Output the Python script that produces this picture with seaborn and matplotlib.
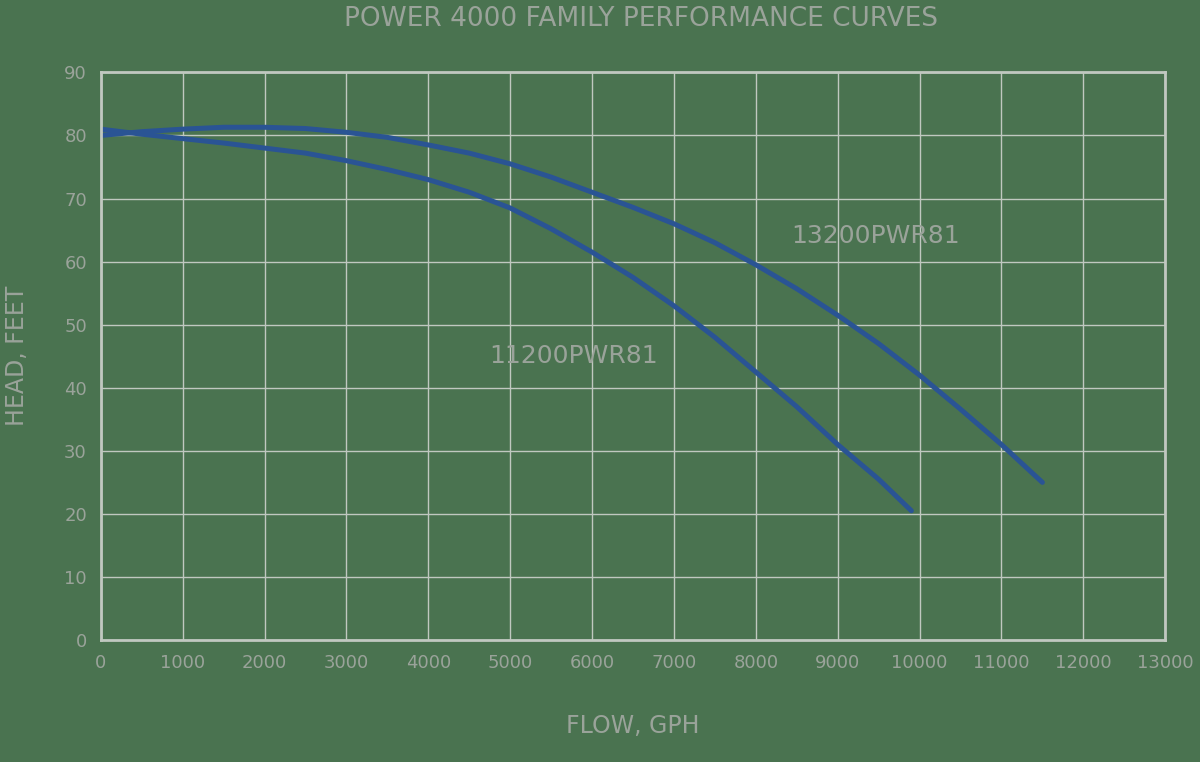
import matplotlib
matplotlib.use("Agg")
import matplotlib.pyplot as plt
import seaborn as sns
import pandas as pd

flow_11200 = [0, 500, 1000, 1500, 2000, 2500, 3000, 3500, 4000, 4500, 5000, 5500, 6000, 6500, 7000, 7500, 8000, 8500, 9000, 9500, 9900]
head_11200 = [81, 80.2, 79.5, 78.8, 78, 77.2, 76, 74.6, 73, 71, 68.5, 65.2, 61.5, 57.5, 53, 48, 42.5, 37, 31, 25.5, 20.5]
flow_13200 = [0, 500, 1000, 1500, 2000, 2500, 3000, 3500, 4000, 4500, 5000, 5500, 6000, 6500, 7000, 7500, 8000, 8500, 9000, 9500, 10000, 10500, 11000, 11500]
head_13200 = [80, 80.6, 81, 81.3, 81.3, 81.1, 80.5, 79.7, 78.5, 77.2, 75.5, 73.4, 71, 68.6, 66, 63, 59.5, 55.7, 51.5, 47, 42, 36.6, 31, 25]
xticks = list(range(0, 13001, 1000))
yticks = list(range(0, 91, 10))

bg = "#4a7350"
txt = "#9aa39a"
line = "#2a5494"

sns.set_style("white")
fig = plt.figure(figsize=(12, 7.62), dpi=100, facecolor=bg)
ax = fig.add_axes([0.084, 0.16, 0.887, 0.745])
ax.set_facecolor(bg)

df1 = pd.DataFrame({"x": flow_11200, "y": head_11200})
df2 = pd.DataFrame({"x": flow_13200, "y": head_13200})
sns.lineplot(data=df1, x="x", y="y", ax=ax, color=line, lw=3.6)
sns.lineplot(data=df2, x="x", y="y", ax=ax, color=line, lw=3.6)

ax.set_xlim(0, 13000)
ax.set_ylim(0, 90)
ax.set_xticks(xticks)
ax.set_yticks(yticks)
ax.grid(True, color="#c0c8c0", lw=1.0)
for s in ax.spines.values():
    s.set_color("#c0c8c0")
    s.set_linewidth(2)
ax.tick_params(colors=txt, labelsize=13, length=0, pad=10)
ax.set_xlabel("FLOW, GPH", color=txt, fontsize=17, labelpad=30)
ax.set_ylabel("HEAD, FEET", color=txt, fontsize=17, labelpad=25)
ax.text(9460, 64, "13200PWR81", color=txt, fontsize=18, ha="center", va="center")
ax.text(5780, 45, "11200PWR81", color=txt, fontsize=18, ha="center", va="center")
fig.text(0.534, 0.975, "POWER 4000 FAMILY PERFORMANCE CURVES", color=txt, fontsize=19, ha="center", va="center")
fig.savefig("out.png", dpi=100, facecolor=bg)
